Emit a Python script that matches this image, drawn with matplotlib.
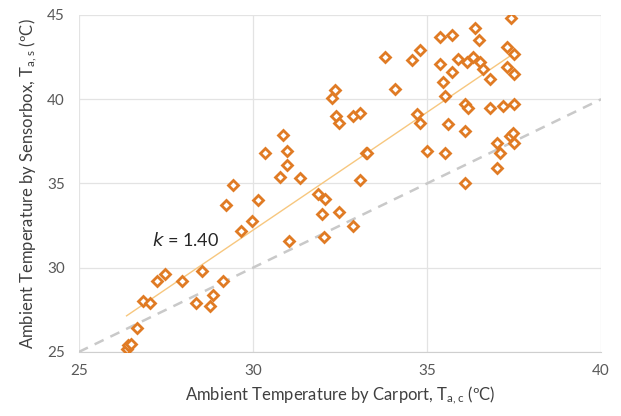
import numpy as np
import matplotlib
matplotlib.use("Agg")
import matplotlib.pyplot as plt

plt.rcParams["font.family"] = ["Lato", "DejaVu Sans"]
plt.rcParams["mathtext.default"] = "regular"

# carport ambient temperature (x) vs sensorbox ambient temperature (y), in degC
t_carport = [
    26.37, 26.42, 26.51, 26.66, 26.85, 27.04, 27.23, 27.47, 27.95, 28.36,
    28.53, 28.76, 28.86, 29.15, 29.24, 29.43, 29.67, 29.96, 30.15, 30.34,
    30.78, 30.87, 30.97, 30.97, 31.04, 31.35, 31.88, 31.97, 32.04, 32.07,
    32.26, 32.36, 32.39, 32.48, 32.48, 32.88, 32.88, 33.07, 33.07, 33.25,
    33.27, 33.79, 34.08, 34.56, 34.70, 34.80, 34.80, 34.99, 35.37, 35.37,
    35.47, 35.52, 35.52, 35.61, 35.71, 35.71, 35.90, 36.09, 36.09, 36.09,
    36.14, 36.19, 36.33, 36.38, 36.49, 36.52, 36.62, 36.81, 36.81, 37.00,
    37.00, 37.10, 37.19, 37.29, 37.29, 37.39, 37.41, 37.48, 37.50, 37.50,
    37.50, 37.50,
]
t_sensorbox = [
    25.2, 25.4, 25.5, 26.4, 28.0, 27.9, 29.2, 29.6, 29.2, 27.9,
    29.8, 27.7, 28.4, 29.2, 33.7, 34.9, 32.2, 32.8, 34.0, 36.8,
    35.4, 37.9, 36.9, 36.1, 31.6, 35.3, 34.4, 33.2, 31.8, 34.1,
    40.1, 40.55, 39.0, 38.6, 33.3, 39.0, 32.5, 39.2, 35.2, 36.8,
    36.8, 42.5, 40.6, 42.3, 39.1, 42.9, 38.6, 36.9, 43.7, 42.1,
    41.0, 40.2, 36.8, 38.5, 43.8, 41.6, 42.4, 39.7, 38.1, 35.0,
    42.2, 39.5, 42.5, 44.2, 43.5, 42.2, 41.8, 41.2, 39.5, 37.4,
    35.9, 36.8, 39.6, 43.1, 41.9, 37.8, 44.8, 38.0, 42.7, 41.5,
    39.7, 37.4,
]
k = 1.40

x = np.array(t_carport)
y = np.array(t_sensorbox)
intercept = y.mean() - k * x.mean()

fig = plt.figure(figsize=(6.21, 4.16), dpi=100)
ax = fig.add_axes([0.127, 0.154, 0.841, 0.810])

ax.plot([25, 40], [25, 40], color="#c9c9c9", lw=1.8, ls=(0, (4, 3)), zorder=1)
xf = np.array([x.min(), x.max()])
ax.plot(xf, k * xf + intercept, color="#f7c77f", lw=1.0, zorder=2)
ax.plot(x, y, ls="none", marker="D", ms=5.5, mfc="white", mec="#e07b24",
        mew=2.0, zorder=3)

ax.text(27.1, 31.65, "$\\mathit{k}$ = 1.40", fontsize=13, color="#262626",
        va="center", ha="left")

ax.set_xlim(25, 40)
ax.set_ylim(25, 45)
ax.set_xticks([25, 30, 35, 40])
ax.set_yticks([25, 30, 35, 40, 45])
ax.grid(True, color="#e3e3e3", lw=0.9)
ax.set_axisbelow(True)
for side in ["top", "right", "left"]:
    ax.spines[side].set_visible(False)
ax.spines["bottom"].set_color("#cfcfcf")
ax.tick_params(length=0, labelsize=11, labelcolor="#595959")
ax.tick_params(axis="x", pad=9)
ax.tick_params(axis="y", pad=10)

ax.set_xlabel("Ambient Temperature by Carport, T$_{a,c}$ (ºC)", fontsize=12,
              color="#404040", labelpad=4)
ax.set_ylabel("Ambient Temperature by Sensorbox, T$_{a,s}$ (ºC)", fontsize=12,
              color="#404040", labelpad=6)

fig.savefig("out.png", dpi=100)
